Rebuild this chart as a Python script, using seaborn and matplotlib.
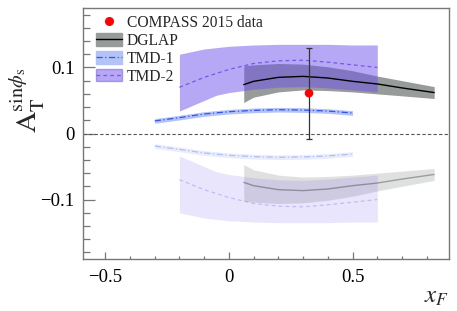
import numpy as np
import pandas as pd
import matplotlib
matplotlib.use("Agg")
import matplotlib.pyplot as plt
import seaborn as sns
from matplotlib.patches import Patch
from matplotlib.lines import Line2D

# ---------------- data ----------------
# DGLAP band
dglap_x = [0.06, 0.1, 0.2, 0.3, 0.4, 0.5, 0.6, 0.7, 0.83]
dglap_c = [0.074, 0.079, 0.085, 0.0865, 0.084, 0.079, 0.075, 0.069, 0.062]
dglap_hi = [0.1024, 0.104, 0.106, 0.105, 0.101, 0.095, 0.087, 0.080, 0.071]
dglap_lo = [0.047, 0.055, 0.063, 0.066, 0.065, 0.063, 0.060, 0.057, 0.053]

# TMD-1 band
tmd1_x = [-0.3, -0.2, -0.1, 0.0, 0.1, 0.2, 0.3, 0.4, 0.5]
tmd1_c = [0.019, 0.024, 0.0295, 0.033, 0.035, 0.036, 0.0355, 0.034, 0.031]
tmd1_hi = [0.0225, 0.0275, 0.033, 0.0365, 0.0385, 0.0395, 0.039, 0.0375, 0.0345]
tmd1_lo = [0.0155, 0.0205, 0.026, 0.0295, 0.0315, 0.0325, 0.032, 0.0305, 0.0275]

# TMD-2 band
tmd2_x = [-0.2, -0.1, -0.05, 0.0, 0.1, 0.2, 0.3, 0.4, 0.5, 0.6]
tmd2_c = [0.070, 0.085, 0.091, 0.097, 0.106, 0.110, 0.111, 0.108, 0.104, 0.100]
tmd2_hi = [0.120, 0.128, 0.130, 0.132, 0.134, 0.135, 0.135, 0.135, 0.134, 0.134]
tmd2_lo = [0.034, 0.050, 0.058, 0.062, 0.067, 0.070, 0.071, 0.069, 0.066, 0.063]

# COMPASS 2015 data point
compass_x = [0.324]
compass_y = [0.061]
compass_err = [0.069]

# ---------------- style ----------------
sns.set_theme(style="ticks")
plt.rcParams["font.family"] = ["Liberation Serif", "DejaVu Serif"]
plt.rcParams["mathtext.fontset"] = "stix"

fig = plt.figure(figsize=(4.57, 3.11), dpi=100)
ax = fig.add_axes([83 / 457, 52 / 311, 366 / 457, 251 / 311])

grey = "#979b99"
purple = "#6f52ed"
blue_band = "#b3c2f7"
blue_line = "#3355e8"
tmd2_line = "#7a55ea"

def draw(sign, a_scale):
    s = sign
    dx = np.array(dglap_x)
    ax.fill_between(dx, s * np.array(dglap_lo), s * np.array(dglap_hi),
                    color=grey, alpha=1.0 * a_scale, lw=0, zorder=2)
    t2x = np.array(tmd2_x)
    ax.fill_between(t2x, s * np.array(tmd2_lo), s * np.array(tmd2_hi),
                    color=purple, alpha=0.5 * a_scale, lw=0, zorder=3)
    t1x = np.array(tmd1_x)
    ax.fill_between(t1x, s * np.array(tmd1_lo), s * np.array(tmd1_hi),
                    color=blue_band, alpha=1.0 * a_scale, lw=0, zorder=3)
    sns.lineplot(x=dglap_x, y=list(s * np.array(dglap_c)), ax=ax,
                 color="black", lw=1.0, alpha=a_scale, zorder=4)
    sns.lineplot(x=tmd2_x, y=list(s * np.array(tmd2_c)), ax=ax,
                 color=tmd2_line, lw=0.9, alpha=a_scale, zorder=4,
                 linestyle=(0, (3, 2.5)))
    sns.lineplot(x=tmd1_x, y=list(s * np.array(tmd1_c)), ax=ax,
                 color=blue_line, lw=0.9, alpha=a_scale, zorder=4,
                 linestyle=(0, (5, 2, 1, 2)))

draw(-1, 0.3)
draw(1, 1.0)

# zero line
ax.axhline(0, color="#555555", lw=0.8, ls=(0, (3, 2)), zorder=1)

# data point
ax.errorbar(compass_x, compass_y, yerr=compass_err, fmt="none",
            ecolor="#333333", elinewidth=0.9, capsize=2.5, capthick=0.9, zorder=6)
sns.scatterplot(x=compass_x, y=compass_y, ax=ax, color="red", s=38,
                edgecolor="none", zorder=7)

# axes
ax.set_xlim(-0.59, 0.89)
ax.set_ylim(-0.19, 0.19)
ax.set_xticks([-0.5, 0, 0.5])
ax.set_xticklabels(["\u22120.5", "0", "0.5"])
ax.set_yticks([-0.1, 0, 0.1])
ax.set_yticklabels(["\u22120.1", "0", "0.1"])
ax.set_xticks(np.arange(-0.5, 0.9, 0.1), minor=True)
ax.set_yticks(np.arange(-0.18, 0.19, 0.02), minor=True)
for sp in ax.spines.values():
    sp.set_color("#777777")
    sp.set_linewidth(1.0)
ax.tick_params(axis="both", which="both", direction="in", colors="#777777",
               labelcolor="black", labelsize=13.5)
ax.tick_params(axis="y", which="major", length=8.6, width=0.9, pad=6)
ax.tick_params(axis="y", which="minor", length=4.8, width=0.9)
ax.tick_params(axis="x", which="major", length=4.8, width=0.9, pad=7)
ax.tick_params(axis="x", which="minor", length=2.4, width=0.9)
ax.set_xlabel("")
ax.set_ylabel("")

fig.text(27 / 457, 1 - 100 / 311,
         r"$\mathrm{A}_{\mathrm{T}}^{\mathrm{sin}\phi_{\mathrm{s}}}$",
         rotation=90, ha="center", va="center", fontsize=21)
fig.text(437 / 457, 1 - 297 / 311, r"$x_F$", ha="center", va="center",
         fontsize=18)

handles = [
    Line2D([], [], marker="o", color="red", ls="none", markersize=5.5),
    (Patch(color=grey), Line2D([], [], color="black", lw=1.0)),
    (Patch(color=blue_band), Line2D([], [], color=blue_line, lw=0.9,
                                    linestyle=(0, (5, 2, 1, 2)))),
    (Patch(color=purple, alpha=0.5), Line2D([], [], color=tmd2_line, lw=0.9,
                                            linestyle=(0, (3, 2.5)))),
]
labels = ["COMPASS 2015 data", "DGLAP", "TMD-1", "TMD-2"]
leg = ax.legend(handles, labels, loc="upper left", frameon=False,
                fontsize=11.2, handlelength=1.65, handleheight=0.85,
                labelspacing=0.12, handletextpad=0.35,
                bbox_to_anchor=(0.014, 1.003), borderaxespad=0.1)

fig.savefig("out.png", dpi=100)
